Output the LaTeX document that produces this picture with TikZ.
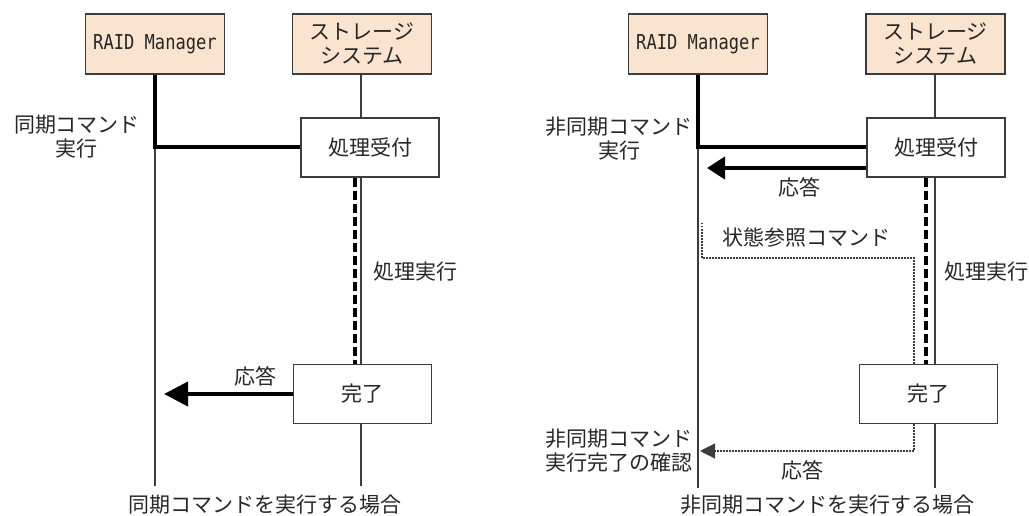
\documentclass[tikz,border=0pt]{standalone}
\usepackage{fontspec}
\setmainfont{Noto Sans CJK JP}
\newfontfamily\latinmono{DejaVu Sans Mono}
\usetikzlibrary{calc,arrows.meta}
\definecolor{headfill}{RGB}{250,228,208}
\definecolor{inkgray}{RGB}{60,60,60}
\newcommand{\rmname}{\scalebox{0.9}[1.08]{RAID Manager}}

\tikzset{
    every node/.style={font=\fontsize{21}{24}\selectfont, text=black!85, align=center, inner sep=0pt},
    actor/.style={draw=inkgray, line width=1.5pt, fill=headfill, minimum width=139pt, minimum height=60pt},
    stepbox/.style={draw=inkgray, line width=1.5pt, fill=white, minimum width=138pt, minimum height=59pt},
    life/.style={draw=inkgray, line width=1.3pt},
    call/.style={line width=4pt},
    busy/.style={line width=4pt, dash pattern=on 9pt off 4pt},
    poll/.style={inkgray, line width=1.2pt, dash pattern=on 1.5pt off 1.5pt},
    rm/.style={font=\latinmono\fontsize{19}{22}\selectfont},
}

\begin{document}
\begin{tikzpicture}[x=1pt, y=-1pt]
    \useasboundingbox (0,0) rectangle (1029,516);

    \node [actor, rm] (RM1) at (155, 44) {\rmname};
    \node [actor] (SS1) at (362, 44) {ストレージ\\システム};
        \coordinate (RM1end) at (155, 486);
        \coordinate (SS1end) at (361, 486);
        \coordinate (busy1) at (355, 0);
        \coordinate (ret1) at (164, 394);

    \draw [life] (RM1.south) -- (RM1end);
    \draw [life] (SS1.south -| SS1end) -- (SS1end);

    \node [stepbox] (accept1) at (370, 147.5) {処理受付};
    \node [stepbox] (done1) at (362.5, 394) {完了};

    \draw [call] (RM1.south) |- (accept1.west);
    \draw [busy] (accept1.south -| busy1) -- (done1.north -| busy1);
    \draw [call, -{Triangle[length=24pt, width=24pt]}] (done1.west) -- (ret1);

    \node (sync1) at (77, 137) {同期コマンド\\実行};
    \node [anchor=west] (exec1) at (373, 272) {処理実行};
    \node (resp1) at (255, 376) {応答};
    \node (cap1) at (265, 505) {同期コマンドを実行する場合};

    \node [actor, rm] (RM2) at (698, 44) {\rmname};
    \node [actor] (SS2) at (935.5, 44) {ストレージ\\システム};
        \coordinate (RM2end) at (698, 488);
        \coordinate (SS2end) at (935, 488);
        \coordinate (busy2) at (926, 0);
        \coordinate (ret2) at (707, 168);
        \coordinate (q1) at (702, 223);
        \coordinate (q2) at (914, 258);
        \coordinate (ret3) at (700, 451);

    \draw [life] (RM2.south) -- (RM2end);
    \draw [life] (SS2.south -| SS2end) -- (SS2end);

    \node [stepbox] (accept2) at (936, 147.5) {処理受付};
    \node [stepbox] (done2) at (928.5, 394) {完了};

    \draw [call] (RM2.south) |- (accept2.west);
    \draw [call, -{Triangle[length=18pt, width=22pt]}] (ret2 -| accept2.west) -- (ret2);
    \draw [busy] (accept2.south -| busy2) -- (done2.north -| busy2);
    \draw [poll] (q1) |- (q2) -- (q2 |- done2.north);
    \draw [poll, -{Triangle[length=15pt, width=15pt]}] (q2 |- done2.south) |- (ret3);

    \node (async2) at (619, 139) {非同期コマンド\\実行};
    \node (resp2) at (799, 187) {応答};
    \node (query2) at (806, 238) {状態参照コマンド};
    \node [anchor=west] (exec2) at (944, 272) {処理実行};
    \node (check2) at (619, 451) {非同期コマンド\\実行完了の確認};
    \node (resp3) at (802, 470) {応答};
    \node (cap2) at (827, 505) {非同期コマンドを実行する場合};
\end{tikzpicture}
\end{document}
